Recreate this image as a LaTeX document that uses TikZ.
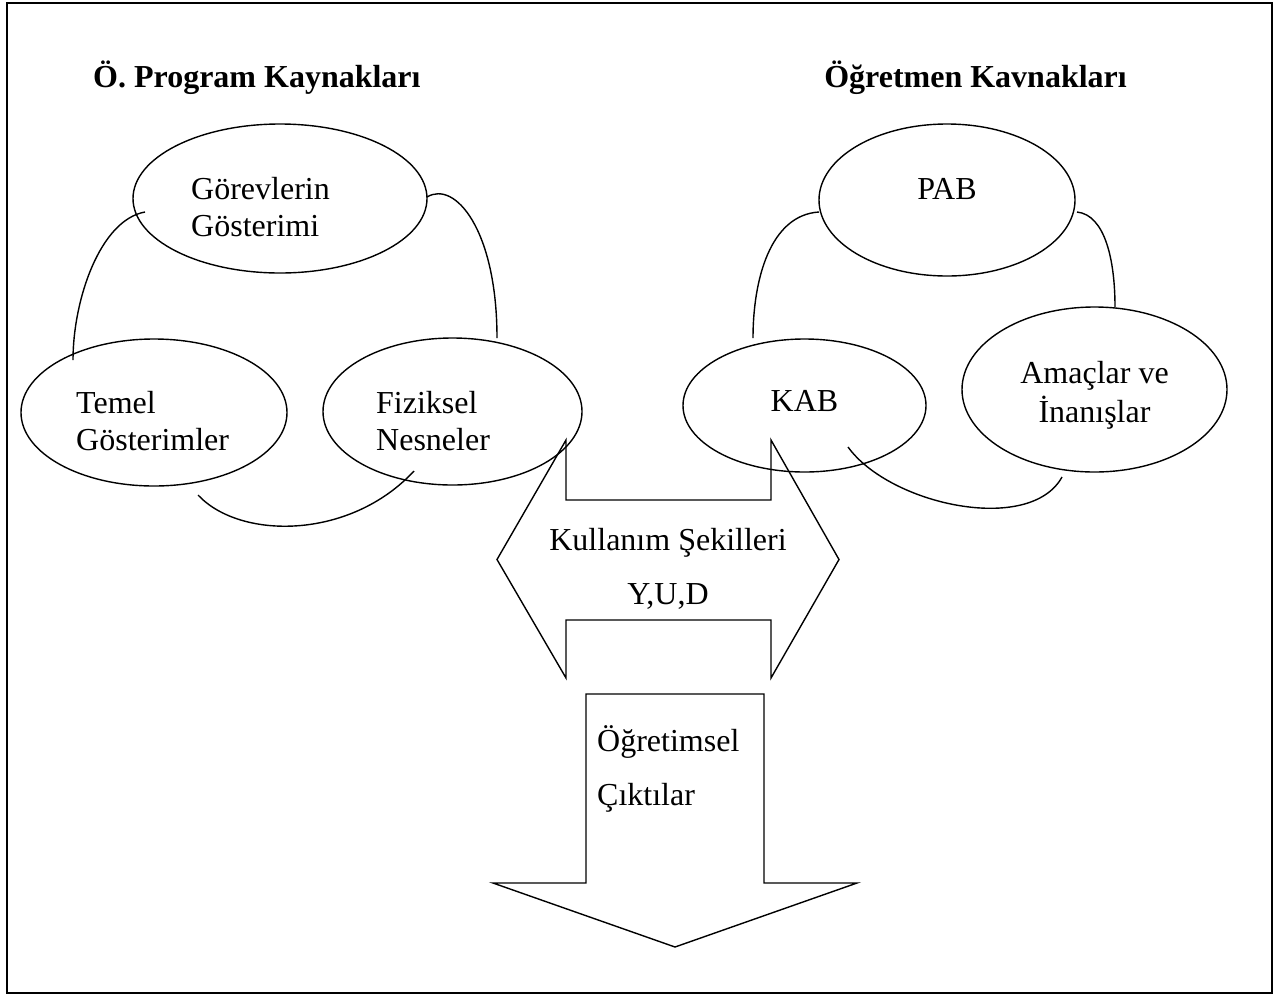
\documentclass[tikz,border=0pt]{standalone}
\usepackage{fontspec}
\setmainfont{Liberation Serif}
\usetikzlibrary{shapes.geometric}
\begin{document}
\begin{tikzpicture}[x=1pt,y=-1pt,
  line/.style={line width=1.4pt},
  oval/.style={draw,ellipse,line width=1.4pt,inner sep=0pt},
  txt/.style={inner sep=0pt,font=\fontsize{32}{37}\selectfont},
  ttl/.style={inner sep=0pt,font=\fontsize{32}{37}\selectfont\bfseries},
]
\useasboundingbox (0,0) rectangle (1279,994);
\draw[line width=2pt] (7,3) rectangle (1272,993);

% titles
\node[ttl,anchor=base west] (t1) at (93,87) {Ö. Program Kaynakları};
\node[ttl,anchor=base east] (t2) at (1127,87) {Öğretmen Kavnakları};

% ellipses
\node[oval,minimum width=294pt,minimum height=149pt] (gor) at (280,198.5) {};
\node[oval,minimum width=266pt,minimum height=147pt] (tem) at (154,412.5) {};
\node[oval,minimum width=259pt,minimum height=147pt] (fiz) at (452.5,411.5) {};
\node[oval,minimum width=256pt,minimum height=152pt] (pab) at (947,200) {};
\node[oval,minimum width=243pt,minimum height=133pt] (kab) at (804.5,405.5) {};
\node[oval,minimum width=265pt,minimum height=165pt] (ama) at (1094.5,389.5) {};

% texts
\node[txt,anchor=base west] (lgor) at (191,199) {\begin{tabular}[t]{@{}l@{}}Görevlerin\\Gösterimi\end{tabular}};
\node[txt,anchor=base west] (ltem) at (76,413) {\begin{tabular}[t]{@{}l@{}}Temel\\Gösterimler\end{tabular}};
\node[txt,anchor=base west] (lfiz) at (376,413) {\begin{tabular}[t]{@{}l@{}}Fiziksel\\Nesneler\end{tabular}};
\node[txt,anchor=base] (lpab) at (947,199) {PAB};
\node[txt,anchor=base] (lkab) at (804.5,411) {KAB};
\node[txt,anchor=base] (lama) at (1094.5,383) {\begin{tabular}[t]{@{}c@{}}Amaçlar ve\\[2pt]İnanışlar\end{tabular}};

% connectors
\coordinate (gorL) at (145,212);
\coordinate (temT) at (73,360);
\coordinate (gorR) at (427,197);
\coordinate (fizT) at (497,338);
\coordinate (temB) at (198,495);
\coordinate (fizB) at (414,471);
\coordinate (pabL) at (819,212);
\coordinate (kabT) at (753,338);
\coordinate (pabR) at (1077,212);
\coordinate (amaT) at (1115,307);
\coordinate (kabB) at (848,447);
\coordinate (amaB) at (1062,477);

\draw[line] (gorL) .. controls (100,220) and (73,300) .. (temT);
\draw[line] (gorR) .. controls (455,180) and (497,230) .. (fizT);
\draw[line] (temB) .. controls (240,540) and (350,540) .. (fizB);
\draw[line] (pabL) .. controls (770,215) and (753,280) .. (kabT);
\draw[line] (pabR) .. controls (1105,215) and (1115,260) .. (amaT);
\draw[line] (kabB) .. controls (890,505) and (1030,535) .. (amaB);

% double arrow
\draw[line] (497,559.5) -- (566,440) -- (566,500) -- (771,500) -- (771,440)
  -- (839,559.5) -- (771,678) -- (771,620) -- (566,620) -- (566,678) -- cycle;
\node[txt,anchor=base] (kul) at (668,550) {\begin{tabular}[t]{@{}c@{}}Kullanım Şekilleri\\[17pt]Y,U,D\end{tabular}};

% down arrow
\draw[line] (586,694) -- (764,694) -- (764,883) -- (857,883) -- (675,947)
  -- (493,883) -- (586,883) -- cycle;
\node[txt,anchor=base west] (ogr) at (597,751) {\begin{tabular}[t]{@{}l@{}}Öğretimsel\\[17pt]Çıktılar\end{tabular}};
\end{tikzpicture}
\end{document}
